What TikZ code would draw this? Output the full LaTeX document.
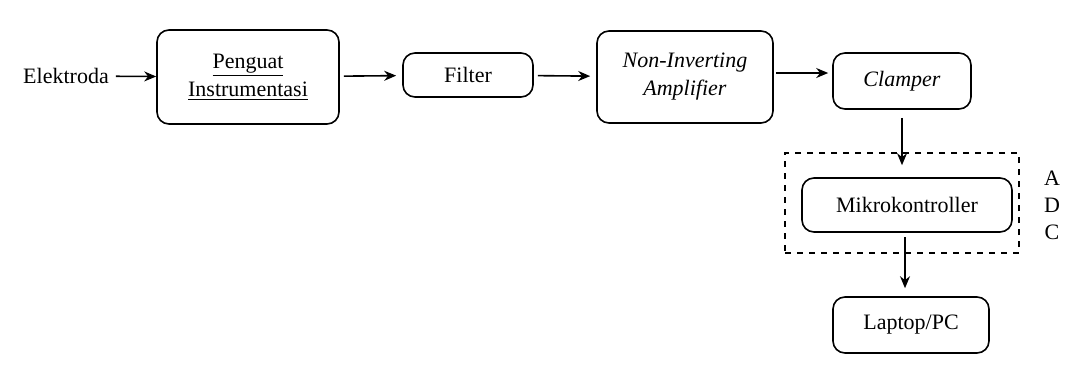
\documentclass[tikz,border=0pt]{standalone}
\usepackage{fontspec}
\setmainfont{Liberation Serif}
\usetikzlibrary{arrows.meta}

\tikzstyle{blok} = [draw=black, fill=white, thick, rectangle,
    rounded corners=6pt, align=center, inner sep=2pt]
\tikzstyle{panah} = [-{Stealth[length=6pt,width=5pt]}, thick]

\begin{document}
\begin{tikzpicture}[x=0.5pt, y=-0.5pt, font=\fontsize{11}{14}\selectfont]
\useasboundingbox (0,0) rectangle (1076,365);
\node (elektroda) at (66,76) {Elektroda};
\node [blok, minimum width=91pt, minimum height=47pt] (penguat) at (248,77)
    {\underline{Penguat}\\\underline{Instrumentasi}};
\node [blok, minimum width=65pt, minimum height=22pt] (filter) at (468,75) {Filter};
\node [blok, minimum width=88pt, minimum height=46pt] (noninv) at (685,77)
    {\textit{Non-Inverting}\\\textit{Amplifier}};
\node [blok, minimum width=69pt, minimum height=28pt] (clamper) at (902,81) {\textit{Clamper}};
\node [draw, dashed, thick, minimum width=117pt, minimum height=50pt] (adc) at (902,203) {};
\node [blok, minimum width=105pt, minimum height=27pt] (mikro) at (907,205) {Mikrokontroller};
\node [blok, minimum width=78pt, minimum height=28pt] (laptop) at (911,325) {Laptop/PC};
\node [align=center, font=\fontsize{11}{13.5}\selectfont] (huruf) at (1052,205) {A\\D\\C};
\coordinate (c1) at (776,73);
\coordinate (m1) at (905,237);

\draw [panah] (elektroda) -- (penguat);
\draw [panah, shorten <=2pt, shorten >=3pt] (penguat) -- (filter);
\draw [panah, shorten <=2pt, shorten >=3pt] (filter) -- (noninv);
\draw [panah, shorten >=2pt] (c1) -- (clamper.west |- c1);
\draw [panah, shorten <=4pt] (clamper.south) -- ([yshift=6pt]clamper.south |- mikro.north);
\draw [panah, shorten >=4pt] (m1) -- (m1 |- laptop.north);
\end{tikzpicture}
\end{document}
